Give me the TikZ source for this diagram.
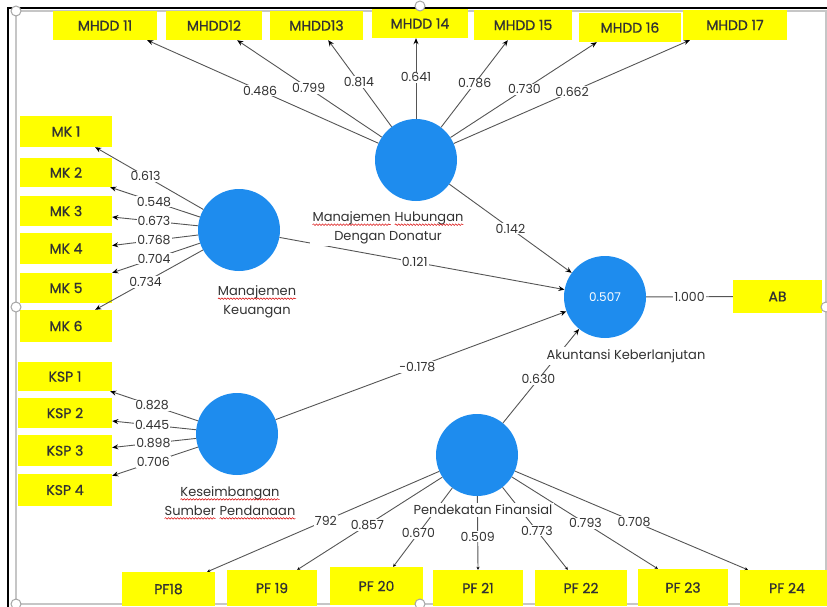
\documentclass[tikz,border=0pt]{standalone}
\usepackage{fontspec}
\setmainfont{Poppins}
\newfontfamily\boxfont[FakeBold=0.8]{Poppins}
\usetikzlibrary{arrows.meta,calc,decorations.pathmorphing}
\definecolor{lvblue}{RGB}{30,140,238}
\definecolor{boxyel}{RGB}{255,255,0}
\definecolor{txtg}{RGB}{50,50,50}
\definecolor{lineg}{RGB}{85,85,85}
\newcommand\sqw[1]{\tikz[baseline=(w.base),x=1pt,y=1pt]{\node[inner sep=0pt,outer sep=0pt,fill=none,draw=none] (w) {#1};
  \draw[red!85!black, line width=0.5pt, decorate, decoration={snake, amplitude=0.8pt, segment length=3pt}] ([yshift=-3pt]w.base west) -- ([yshift=-3pt]w.base east);}}
\tikzset{
  ybox/.style={fill=boxyel, inner sep=0pt, font=\boxfont\fontsize{14}{16}\selectfont, text=txtg},
  lv/.style={circle, fill=lvblue, minimum size=82pt, inner sep=0pt},
  ldline/.style={draw=lineg, line width=0.9pt, -{Stealth[length=6pt,width=5pt,color=black]}},
  pfline/.style={draw=lineg, line width=0.9pt, -{Stealth[length=3pt,width=3pt,color=black]}},
  plain/.style={draw=lineg, line width=0.9pt},
  num/.style={fill=white, inner sep=1pt, font=\fontsize{12.5}{14}\selectfont, text=txtg},
  lvlab/.style={fill=white, inner sep=2pt, align=center, font=\fontsize{13}{19}\selectfont, text=txtg},
  handle/.style={draw=gray!70, fill=white, line width=1pt},
}
\newcommand\ldg[5]{%
  \draw[#5] (#1) -- (#2);
  \path ($(#1.center)!#3!(#2)$) node[num] {#4};}
\begin{document}
\begin{tikzpicture}[x=1pt,y=-1pt]
\useasboundingbox (0,0) rectangle (827,607);
\clip (0,0) rectangle (827,607);
% frame
\draw[gray!45, line width=1.5pt] (16,11) rectangle (826,604);
\draw[black, line width=2pt] (8,607) -- (8,8) -- (827,8);

% latent variables
\node[lv] (mhdd) at (416,160) {};
\node[lv] (mk) at (239,230) {};
\node[lv] (ksp) at (237,434) {};
\node[lv] (pf) at (477,455) {};
\node[lv, text=white, font=\fontsize{12}{14}\selectfont] (ak) at (605,297) {0.507};

% indicator boxes
\node[ybox, minimum width=104pt, minimum height=29pt] (m11) at (105,25.5) {MHDD 11};
\node[ybox, minimum width=96pt, minimum height=29pt] (m12) at (214,25.5) {MHDD12};
\node[ybox, minimum width=93pt, minimum height=29pt] (m13) at (316.5,25.5) {MHDD13};
\node[ybox, minimum width=96pt, minimum height=29pt] (m14) at (420,23.5) {MHDD 14};
\node[ybox, minimum width=98pt, minimum height=30pt] (m15) at (523,25) {MHDD 15};
\node[ybox, minimum width=102pt, minimum height=29pt] (m16) at (630,27.5) {MHDD 16};
\node[ybox, minimum width=104pt, minimum height=30pt] (m17) at (735,25) {MHDD 17};

\node[ybox, minimum width=92pt, minimum height=31pt] (mk1) at (66,131.5) {MK 1};
\node[ybox, minimum width=92pt, minimum height=29pt] (mk2) at (66,172.5) {MK 2};
\node[ybox, minimum width=92pt, minimum height=30pt] (mk3) at (66,211) {MK 3};
\node[ybox, minimum width=92pt, minimum height=31pt] (mk4) at (66,248.5) {MK 4};
\node[ybox, minimum width=92pt, minimum height=30pt] (mk5) at (66,288) {MK 5};
\node[ybox, minimum width=92pt, minimum height=32pt] (mk6) at (66,326) {MK 6};

\node[ybox, minimum width=94pt, minimum height=29pt] (k1) at (65,376.5) {KSP 1};
\node[ybox, minimum width=94pt, minimum height=30pt] (k2) at (65,413) {KSP 2};
\node[ybox, minimum width=94pt, minimum height=31pt] (k3) at (65,450.5) {KSP 3};
\node[ybox, minimum width=94pt, minimum height=32pt] (k4) at (65,490) {KSP 4};

\node[ybox, minimum width=93pt, minimum height=34pt] (pf18) at (168.5,589) {PF18};
\node[ybox, minimum width=90pt, minimum height=36pt] (pf19) at (272,588) {PF 19};
\node[ybox, minimum width=93pt, minimum height=38pt] (pf20) at (376.5,586) {PF 20};
\node[ybox, minimum width=90pt, minimum height=36pt] (pf21) at (478,588) {PF 21};
\node[ybox, minimum width=92pt, minimum height=36pt] (pf22) at (581,588) {PF 22};
\node[ybox, minimum width=90pt, minimum height=37pt] (pf23) at (683,587.5) {PF 23};
\node[ybox, minimum width=94pt, minimum height=36pt] (pf24) at (787,588) {PF 24};

\node[ybox, minimum width=89pt, minimum height=33pt] (ab) at (777.5,296.5) {AB};

% MHDD loadings
\ldg{mhdd}{[xshift=-10pt]m11.south east}{0.58}{0.486}{ldline}
\ldg{mhdd}{[xshift=-25pt]m12.south east}{0.60}{0.799}{ldline}
\ldg{mhdd}{[xshift=-35pt]m13.south east}{0.65}{0.814}{ldline}
\ldg{mhdd}{[xshift=-4pt]m14.south}{0.68}{0.641}{ldline}
\ldg{mhdd}{[xshift=34pt]m15.south west}{0.64}{0.786}{ldline}
\ldg{mhdd}{[xshift=18pt]m16.south west}{0.60}{0.730}{ldline}
\ldg{mhdd}{[xshift=7pt]m17.south west}{0.57}{0.662}{ldline}
% MK loadings
\ldg{mk}{[xshift=-17pt]mk1.south east}{0.65}{0.613}{ldline}
\ldg{mk}{[xshift=-2pt]mk2.south east}{0.66}{0.548}{ldline}
\ldg{mk}{[yshift=-6pt]mk3.east}{0.67}{0.673}{ldline}
\ldg{mk}{[yshift=3pt]mk4.east}{0.67}{0.768}{ldline}
\ldg{mk}{mk5.north east}{0.67}{0.704}{ldline}
\ldg{mk}{[xshift=-17pt]mk6.north east}{0.65}{0.734}{ldline}
% KSP loadings
\ldg{ksp}{[xshift=-2pt]k1.south east}{0.67}{0.828}{ldline}
\ldg{ksp}{[yshift=-8pt]k2.east}{0.68}{0.445}{ldline}
\ldg{ksp}{[yshift=3pt]k3.east}{0.67}{0.898}{ldline}
\ldg{ksp}{[yshift=-2pt]k4.north east}{0.67}{0.706}{ldline}
% PF loadings
\ldg{pf}{[xshift=-8pt]pf18.north east}{0.56}{792}{pfline}
\ldg{pf}{[xshift=-20pt]pf19.north east}{0.61}{0.857}{pfline}
\ldg{pf}{[xshift=-30pt]pf20.north east}{0.70}{0.670}{pfline}
\ldg{pf}{pf21.north}{0.71}{0.509}{pfline}
\ldg{pf}{[xshift=33pt]pf22.north west}{0.66}{0.773}{pfline}
\ldg{pf}{[xshift=20pt]pf23.north west}{0.60}{0.793}{pfline}
\ldg{pf}{[xshift=8pt]pf24.north west}{0.58}{0.708}{pfline}
% structural paths
\ldg{mhdd}{ak}{0.50}{0.142}{ldline}
\ldg{mk}{ak}{0.48}{0.121}{ldline}
\ldg{ksp}{ak}{0.49}{-0.178}{ldline}
\ldg{pf}{ak}{0.48}{0.630}{ldline}
\ldg{ak}{ab}{0.49}{1.000}{plain}

% latent labels
\node[lvlab] (mhddlab) at (388,228) {\sqw{Manajemen} \sqw{Hubungan}\\Dengan Donatur};
\node[lvlab] (mklab) at (257,302) {\sqw{Manajemen}\\Keuangan};
\node[lvlab] (ksplab) at (230,503) {\sqw{Keseimbangan}\\\sqw{Sumber} \sqw{Pendanaan}};
\node[lvlab] (pflab) at (483,510) {Pendekatan Finansial};
\node[lvlab] (aklab) at (626,356) {Akuntansi Keberlanjutan};

% selection handles
\foreach \p in {(16,11),(420,6),(16,307),(16,604),(420,604),(826,307)}
  \draw[handle] \p circle (5);
\end{tikzpicture}
\end{document}
